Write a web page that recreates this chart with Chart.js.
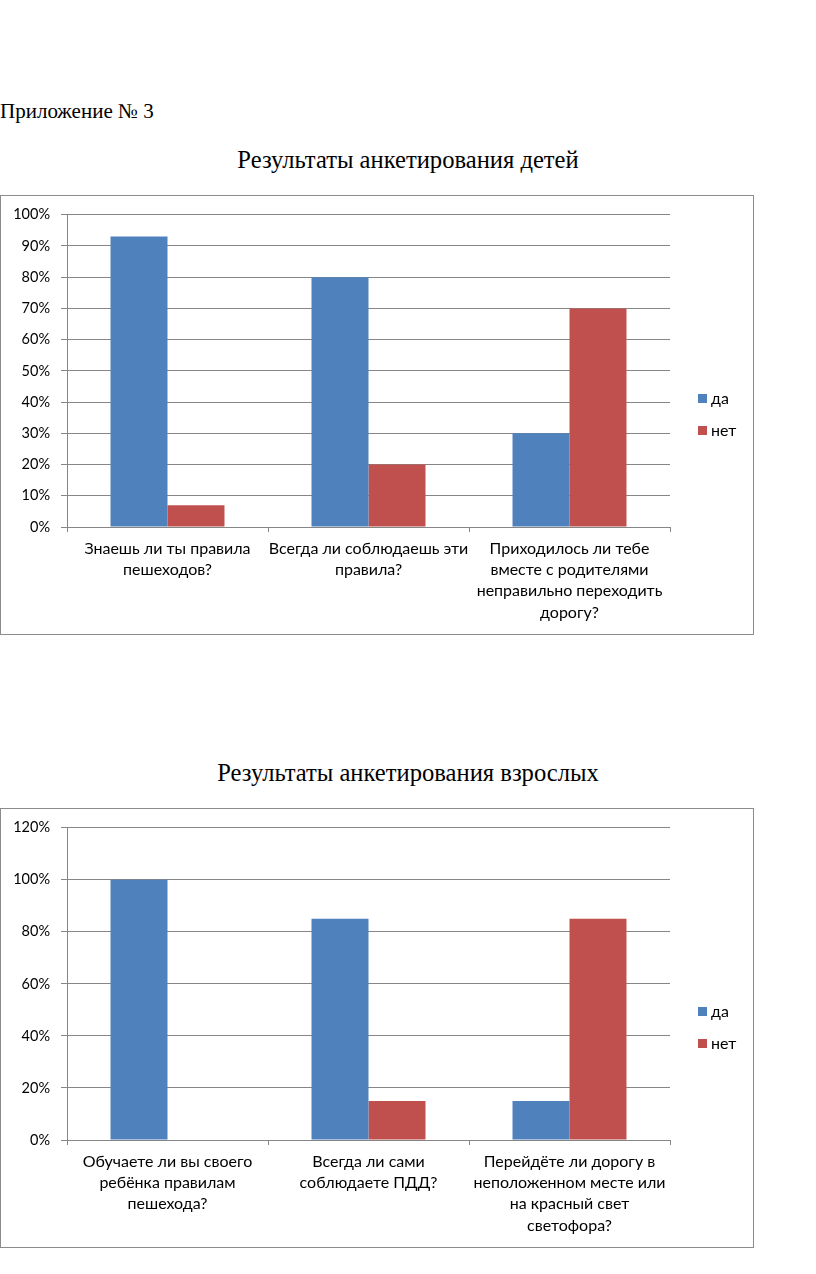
<!DOCTYPE html>
<html><head><meta charset="utf-8">
<script src="https://cdn.jsdelivr.net/npm/chart.js@4.4.0/dist/chart.umd.min.js"></script>
<style>
html,body{margin:0;padding:0;background:#fff;}
body{width:816px;height:1274px;position:relative;overflow:hidden;}
.t{position:absolute;font-family:"Liberation Serif","Times New Roman",serif;color:#000;white-space:nowrap;line-height:1.15;}
.box{position:absolute;left:0;width:754px;height:440px;box-sizing:border-box;border:1px solid #8c8c8c;}
canvas{position:absolute;left:0;}
</style></head><body>
<div class="t" style="left:0;top:99px;font-size:21px;">Приложение № 3</div>
<div class="t" style="left:0;width:816px;text-align:center;top:146px;font-size:24.6px;">Результаты анкетирования детей</div>
<div class="box" style="top:195px;"></div>
<canvas id="c1" width="754" height="440" style="top:195px;"></canvas>
<div class="t" style="left:0;width:816px;text-align:center;top:759px;font-size:24.6px;">Результаты анкетирования взрослых</div>
<div class="box" style="top:808px;"></div>
<canvas id="c2" width="754" height="440" style="top:808px;"></canvas>
<script>
// ---- data ----
const seriesLabels = ['да', 'нет'];

const kidsCategories = [
  ['Знаешь ли ты правила', 'пешеходов?'],
  ['Всегда ли соблюдаешь эти', 'правила?'],
  ['Приходилось ли тебе', 'вместе с родителями', 'неправильно переходить', 'дорогу?']
];
const kidsYes = [93, 80, 30];
const kidsNo = [7, 20, 70];
const kidsAxisMax = 100;
const kidsAxisStep = 10;

const adultCategories = [
  ['Обучаете ли вы своего', 'ребёнка правилам', 'пешехода?'],
  ['Всегда ли сами', 'соблюдаете ПДД?'],
  ['Перейдёте ли дорогу в', 'неположенном месте или', 'на красный свет', 'светофора?']
];
const adultYes = [100, 85, 15];
const adultNo = [0, 15, 85];
const adultAxisMax = 120;
const adultAxisStep = 20;

// ---- styling ----
const BLUE = '#4F81BD';
const RED = '#C0504D';
const GRID = '#868686';
const FONT = 'Lato, "Open Sans", "DejaVu Sans", sans-serif';

const sideLegend = {
  id: 'sideLegend',
  afterDraw(chart, args, opts) {
    const ctx = chart.ctx;
    const items = chart.data.datasets;
    const x = chart.chartArea.right + opts.offsetX;
    const cy = chart.height / 2;
    const n = items.length;
    ctx.save();
    ctx.font = opts.fontSize + 'px ' + FONT;
    ctx.textBaseline = 'middle';
    ctx.textAlign = 'left';
    items.forEach((ds, i) => {
      const y = cy + (i - (n - 1) / 2) * opts.spacing;
      ctx.fillStyle = ds.backgroundColor;
      ctx.fillRect(x, Math.round(y - 5), 9, 9);
      ctx.fillStyle = '#000';
      ctx.fillText(ds.label, x + 13, y);
    });
    ctx.restore();
  }
};

function makeChart(id, cats, yes, no, max, step) {
  return new Chart(document.getElementById(id), {
    type: 'bar',
    data: {
      labels: cats,
      datasets: [
        { label: seriesLabels[0], data: yes, backgroundColor: BLUE, borderWidth: 0 },
        { label: seriesLabels[1], data: no, backgroundColor: RED, borderWidth: 0 }
      ]
    },
    options: {
      responsive: false,
      animation: false,
      devicePixelRatio: 1,
      categoryPercentage: 0.567,
      barPercentage: 1.0,
      layout: { padding: { top: 19, right: 84, bottom: 0, left: 0 } },
      plugins: {
        legend: { display: false },
        tooltip: { enabled: false },
        sideLegend: { offsetX: 28, spacing: 32, fontSize: 16 }
      },
      scales: {
        x: {
          grid: { offset: true, drawOnChartArea: false, drawTicks: true, tickLength: 5, color: GRID },
          border: { color: GRID, width: 1 },
          ticks: {
            color: '#000', autoSkip: false, maxRotation: 0, minRotation: 0, padding: 6,
            font: { family: FONT, size: 16, lineHeight: 1.33 }
          },
          afterFit(scale) { scale.height = 108; }
        },
        y: {
          min: 0, max: max,
          grid: { color: GRID, tickLength: 6, drawTicks: true },
          border: { color: GRID, width: 1 },
          ticks: {
            stepSize: step, color: '#000', padding: 11,
            font: { family: FONT, size: 14.5 },
            callback: v => v + '%'
          },
          afterFit(scale) { scale.width = 67; }
        }
      }
    },
    plugins: [sideLegend]
  });
}

makeChart('c1', kidsCategories, kidsYes, kidsNo, kidsAxisMax, kidsAxisStep);
makeChart('c2', adultCategories, adultYes, adultNo, adultAxisMax, adultAxisStep);
</script>
</body></html>
